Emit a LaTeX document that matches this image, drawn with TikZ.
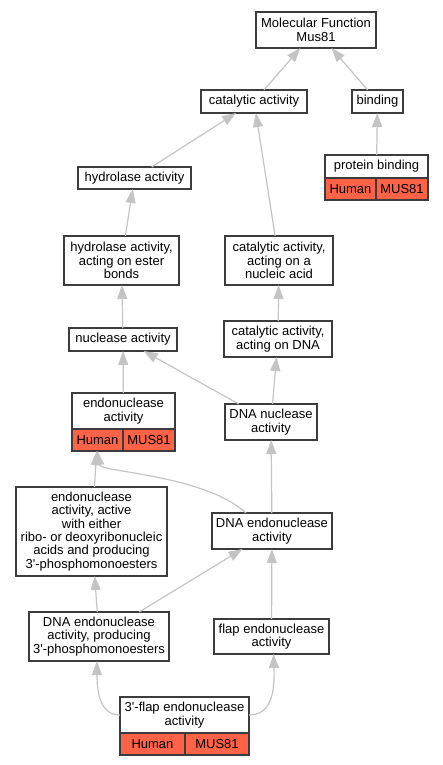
\documentclass[tikz,border=0pt]{standalone}
\usepackage{fontspec}
\setmainfont{Liberation Sans}
\usetikzlibrary{arrows.meta}
\definecolor{gohit}{HTML}{FF6347}
\definecolor{golink}{HTML}{C4C4C4}
\definecolor{goborder}{HTML}{3C3C3C}
\begin{document}
\begin{tikzpicture}[x=1pt,y=-1pt,
  term/.style={draw=goborder,line width=1.3pt,fill=white,align=center,
    inner sep=1pt,outer sep=0pt,font=\fontsize{13}{13.3}\selectfont},
  hit/.style={term,fill=gohit,minimum height=22pt},
  isa/.style={draw=golink,line width=1.2pt,-{Triangle[length=14pt,width=10pt]}}]
  \useasboundingbox (0,0) rectangle (443,765);
  % terms
  \node[term,minimum width=120pt,minimum height=36pt] (mf) at (316,30) {Molecular Function\\Mus81};
  \node[term,minimum width=106pt,minimum height=23pt] (cat) at (254,101.5) {catalytic activity};
  \node[term,minimum width=51pt,minimum height=23pt] (bind) at (377.5,101.5) {binding};
  \node[term,minimum width=103pt,minimum height=23pt] (pb) at (376.5,166.5) {protein binding};
  \node[hit,minimum width=51pt] (pbHuman) at (350.5,189) {Human};
  \node[hit,minimum width=52pt] (pbGene) at (402,189) {MUS81};
  \node[term,minimum width=113pt,minimum height=22pt] (hyd) at (134.5,178) {hydrolase activity};
  \node[term,minimum width=115pt,minimum height=49pt] (ester) at (121.5,260.5) {hydrolase activity,\\acting on ester\\bonds};
  \node[term,minimum width=108pt,minimum height=49pt] (nucacid) at (279,260.5) {catalytic activity,\\acting on a\\nucleic acid};
  \node[term,minimum width=108pt,minimum height=23pt] (nuc) at (123,339.5) {nuclease activity};
  \node[term,minimum width=108pt,minimum height=36pt] (catdna) at (278,339) {catalytic activity,\\acting on DNA};
  \node[term,minimum width=103pt,minimum height=36pt] (endo) at (123.5,411) {endonuclease\\activity};
  \node[hit,minimum width=51pt] (endoHuman) at (97.5,440) {Human};
  \node[hit,minimum width=52pt] (endoGene) at (149,440) {MUS81};
  \node[term,minimum width=92pt,minimum height=36pt] (dnanuc) at (271,422) {DNA nuclease\\activity};
  \node[term,minimum width=151pt,minimum height=89pt] (endoact) at (91.5,531.5)
    {endonuclease\\activity, active\\with either\\ribo- or deoxyribonucleic\\acids and producing\\3\textquotesingle-phosphomonoesters};
  \node[term,minimum width=120pt,minimum height=36pt] (dnaendo) at (272,531) {DNA endonuclease\\activity};
  \node[term,minimum width=140pt,minimum height=49pt] (endoprod) at (99,636.5)
    {DNA endonuclease\\activity, producing\\3\textquotesingle-phosphomonoesters};
  \node[term,minimum width=115pt,minimum height=35pt] (flap) at (271.5,636.5) {flap endonuclease\\activity};
  \node[term,minimum width=129pt,minimum height=36pt] (tf) at (184.5,715) {3\textquotesingle-flap endonuclease\\activity};
  \node[hit,minimum width=65pt] (tfHuman) at (152.5,744) {Human};
  \node[hit,minimum width=64pt] (tfGene) at (217,744) {MUS81};
  % is_a links
  \foreach \a/\b in {cat/mf,bind/mf,pb/bind,hyd/cat,nucacid/cat,ester/hyd,
    nuc/ester,catdna/nucacid,endo/nuc,dnanuc/nuc,dnanuc/catdna,dnaendo/dnanuc,
    endoact/endoHuman,endoprod/endoact,endoprod/dnaendo,flap/dnaendo}
    \draw[isa] (\a) -- (\b);
  \draw[isa] ([xshift=-26pt]dnaendo.north) .. controls (205,475) and (100,472) .. (endoHuman.south);
  \draw[isa] (tf.west) .. controls (100,715) and (97,692) .. ([xshift=-2pt]endoprod.south);
  \draw[isa] (tf.east) .. controls (270,715) and (275,695) .. ([xshift=2pt]flap.south);
\end{tikzpicture}
\end{document}
